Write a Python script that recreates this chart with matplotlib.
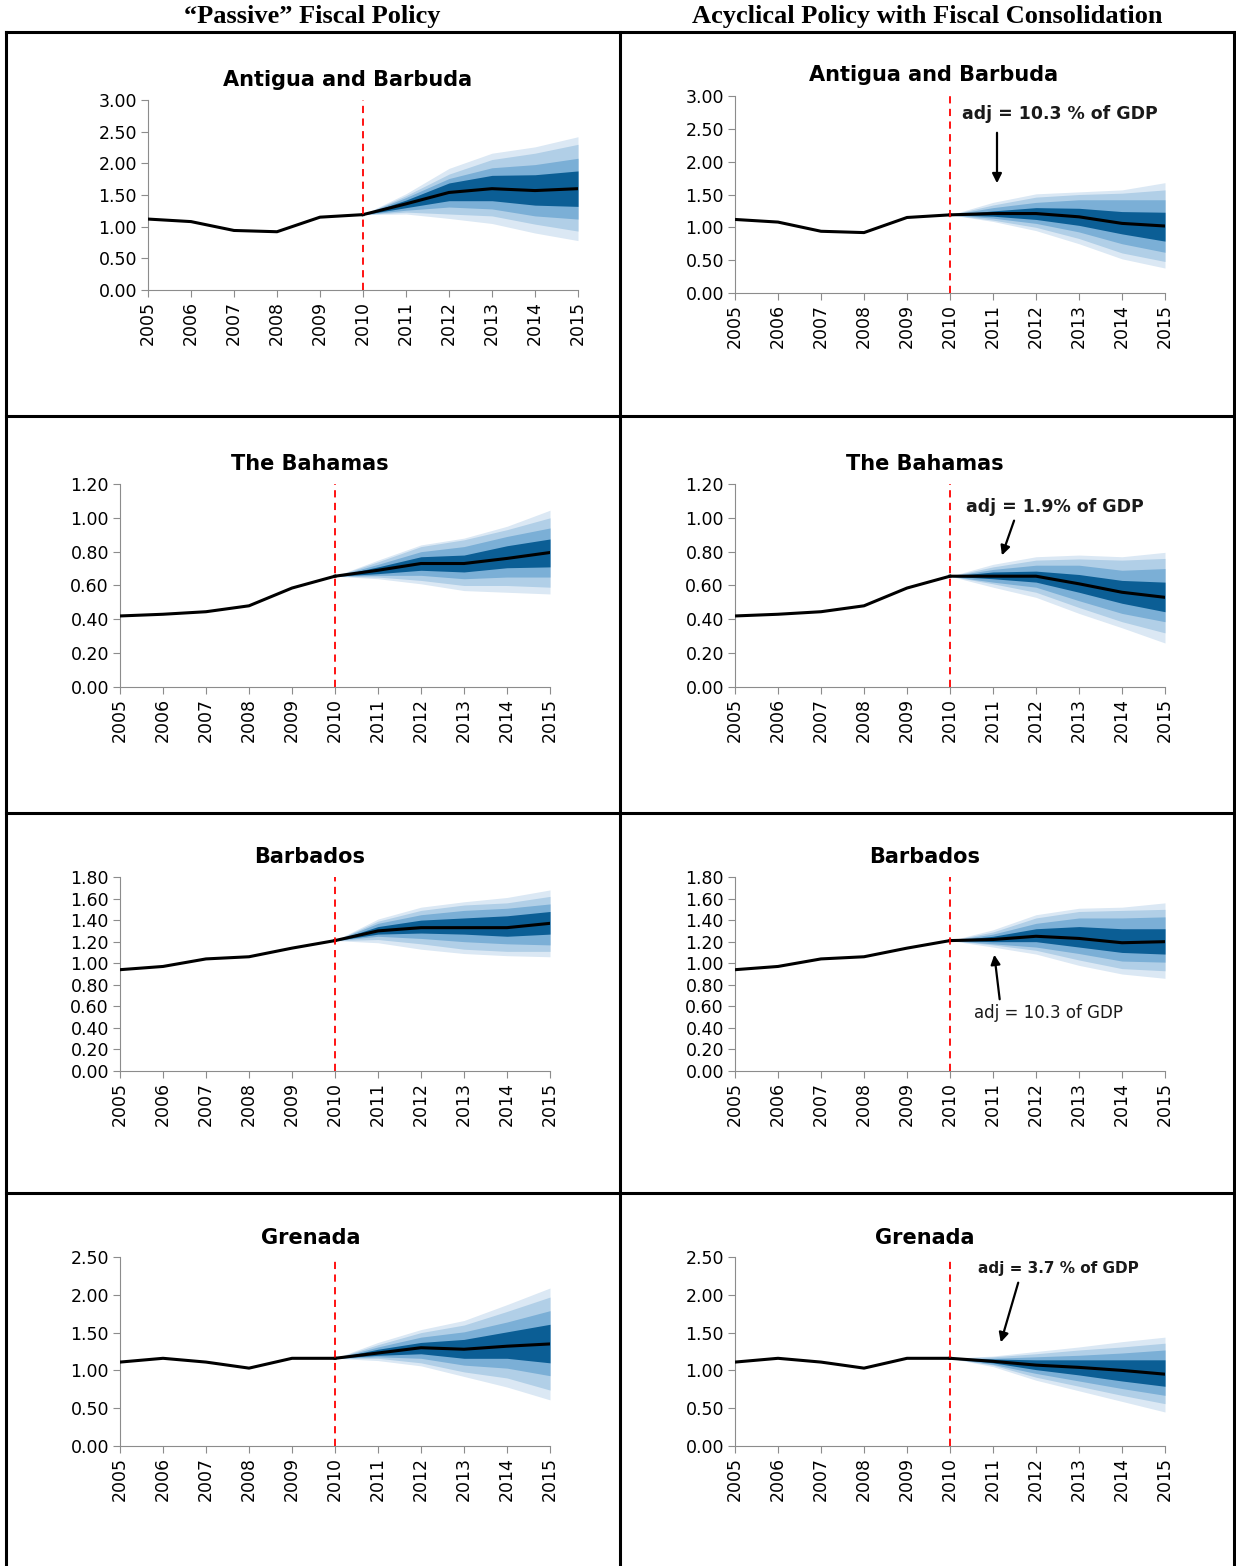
import matplotlib
matplotlib.use("Agg")
import matplotlib.pyplot as plt
from matplotlib.lines import Line2D

W, H = 1236, 1566

# years
hist_years = [2005, 2006, 2007, 2008, 2009, 2010]
fan_years = [2010, 2011, 2012, 2013, 2014, 2015]

# historical debt ratios
antigua_hist = [1.12, 1.08, 0.94, 0.92, 1.15, 1.19]
bahamas_hist = [0.42, 0.43, 0.445, 0.48, 0.585, 0.655]
barbados_hist = [0.94, 0.97, 1.04, 1.06, 1.14, 1.21]
grenada_hist = [1.11, 1.16, 1.11, 1.03, 1.16, 1.16]

# projections: median, upper bounds (inner -> outer), lower bounds (inner -> outer)
antigua_p_med = [1.19, 1.36, 1.54, 1.60, 1.57, 1.60]
antigua_p_hi = [[1.19, 1.42, 1.69, 1.81, 1.82, 1.88],
                [1.19, 1.46, 1.76, 1.93, 1.98, 2.08],
                [1.19, 1.49, 1.83, 2.06, 2.16, 2.30],
                [1.19, 1.52, 1.92, 2.16, 2.26, 2.42]]
antigua_p_lo = [[1.19, 1.30, 1.41, 1.41, 1.34, 1.32],
                [1.19, 1.26, 1.31, 1.28, 1.17, 1.12],
                [1.19, 1.23, 1.20, 1.17, 1.04, 0.93],
                [1.19, 1.20, 1.13, 1.05, 0.90, 0.78]]

antigua_c_med = [1.19, 1.21, 1.21, 1.16, 1.06, 1.02]
antigua_c_hi = [[1.19, 1.25, 1.30, 1.29, 1.24, 1.23],
                [1.19, 1.30, 1.38, 1.42, 1.42, 1.42],
                [1.19, 1.34, 1.46, 1.50, 1.52, 1.57],
                [1.19, 1.38, 1.51, 1.54, 1.57, 1.68]]
antigua_c_lo = [[1.19, 1.17, 1.12, 1.03, 0.90, 0.79],
                [1.19, 1.14, 1.06, 0.93, 0.75, 0.62],
                [1.19, 1.11, 1.00, 0.83, 0.61, 0.48],
                [1.19, 1.09, 0.95, 0.75, 0.52, 0.38]]

bahamas_p_med = [0.655, 0.69, 0.73, 0.73, 0.76, 0.795]
bahamas_p_hi = [[0.655, 0.71, 0.77, 0.78, 0.835, 0.875],
                [0.655, 0.725, 0.80, 0.83, 0.89, 0.94],
                [0.655, 0.74, 0.83, 0.87, 0.93, 1.00],
                [0.655, 0.75, 0.84, 0.88, 0.95, 1.045]]
bahamas_p_lo = [[0.655, 0.67, 0.69, 0.68, 0.705, 0.71],
                [0.655, 0.66, 0.66, 0.64, 0.65, 0.65],
                [0.655, 0.65, 0.63, 0.60, 0.60, 0.59],
                [0.655, 0.64, 0.61, 0.57, 0.56, 0.55]]

bahamas_c_med = [0.655, 0.655, 0.655, 0.61, 0.56, 0.53]
bahamas_c_hi = [[0.655, 0.68, 0.685, 0.665, 0.63, 0.62],
                [0.655, 0.695, 0.72, 0.72, 0.69, 0.70],
                [0.655, 0.71, 0.75, 0.757, 0.75, 0.76],
                [0.655, 0.725, 0.77, 0.78, 0.77, 0.796]]
bahamas_c_lo = [[0.655, 0.64, 0.62, 0.56, 0.495, 0.445],
                [0.655, 0.62, 0.59, 0.51, 0.435, 0.386],
                [0.655, 0.61, 0.56, 0.47, 0.386, 0.32],
                [0.655, 0.59, 0.53, 0.435, 0.35, 0.26]]

barbados_p_med = [1.21, 1.30, 1.33, 1.33, 1.33, 1.37]
barbados_p_hi = [[1.21, 1.34, 1.40, 1.42, 1.44, 1.48],
                 [1.21, 1.37, 1.45, 1.49, 1.51, 1.55],
                 [1.21, 1.39, 1.49, 1.54, 1.56, 1.62],
                 [1.21, 1.41, 1.52, 1.57, 1.61, 1.68]]
barbados_p_lo = [[1.21, 1.27, 1.28, 1.27, 1.25, 1.27],
                 [1.21, 1.25, 1.23, 1.20, 1.18, 1.17],
                 [1.21, 1.22, 1.18, 1.13, 1.11, 1.11],
                 [1.21, 1.19, 1.13, 1.09, 1.07, 1.06]]

barbados_c_med = [1.21, 1.22, 1.25, 1.23, 1.19, 1.20]
barbados_c_hi = [[1.21, 1.25, 1.32, 1.34, 1.32, 1.32],
                 [1.21, 1.27, 1.37, 1.42, 1.42, 1.43],
                 [1.21, 1.29, 1.42, 1.48, 1.49, 1.50],
                 [1.21, 1.31, 1.45, 1.51, 1.52, 1.56]]
barbados_c_lo = [[1.21, 1.20, 1.20, 1.15, 1.10, 1.085],
                 [1.21, 1.18, 1.15, 1.09, 1.02, 1.01],
                 [1.21, 1.17, 1.12, 1.03, 0.95, 0.93],
                 [1.21, 1.15, 1.085, 0.98, 0.90, 0.86]]

grenada_p_med = [1.16, 1.23, 1.30, 1.28, 1.32, 1.35]
grenada_p_hi = [[1.16, 1.28, 1.37, 1.41, 1.51, 1.61],
                [1.16, 1.31, 1.44, 1.51, 1.64, 1.79],
                [1.16, 1.34, 1.50, 1.60, 1.78, 1.97],
                [1.16, 1.37, 1.54, 1.66, 1.87, 2.09]]
grenada_p_lo = [[1.16, 1.20, 1.22, 1.16, 1.16, 1.10],
                [1.16, 1.18, 1.16, 1.07, 1.03, 0.93],
                [1.16, 1.16, 1.10, 0.98, 0.90, 0.74],
                [1.16, 1.13, 1.06, 0.92, 0.78, 0.61]]

grenada_c_med = [1.16, 1.12, 1.07, 1.04, 1.00, 0.95]
grenada_c_hi = [[1.16, 1.15, 1.14, 1.14, 1.14, 1.14],
                [1.16, 1.16, 1.18, 1.20, 1.23, 1.27],
                [1.16, 1.18, 1.22, 1.27, 1.31, 1.36],
                [1.16, 1.19, 1.25, 1.31, 1.38, 1.44]]
grenada_c_lo = [[1.16, 1.10, 1.01, 0.94, 0.86, 0.79],
                [1.16, 1.08, 0.96, 0.86, 0.76, 0.67],
                [1.16, 1.07, 0.91, 0.79, 0.67, 0.56],
                [1.16, 1.05, 0.87, 0.73, 0.59, 0.45]]

fan_colors = ['#0b5e95', '#7bafd6', '#b1cfe7', '#dbe8f4']  # inner -> outer


def px_rect(x0, y0, x1, y1):
    return [x0 / W, 1 - y1 / H, (x1 - x0) / W, (y1 - y0) / H]


def fan_panel(rect, title, title_xy, hist, med, hi, lo, ymax, ystep):
    ax = fig.add_axes(px_rect(*rect))
    for k in range(3, -1, -1):
        ax.fill_between(fan_years, lo[k], hi[k], color=fan_colors[k], lw=0, zorder=1)
    ax.plot(hist_years, hist, color='black', lw=2.2, zorder=3)
    ax.plot(fan_years, med, color='black', lw=2.2, zorder=3)
    ax.axvline(2010, color='red', lw=1.3, ls=(0, (4, 3)), zorder=4)
    ax.set_xlim(2005, 2015)
    ax.set_ylim(0, ymax)
    n = int(round(ymax / ystep))
    ax.set_yticks([i * ystep for i in range(n + 1)])
    ax.set_xticks(list(range(2005, 2016)))
    ax.yaxis.set_major_formatter(matplotlib.ticker.FormatStrFormatter('%.2f'))
    ax.tick_params(axis='x', rotation=90)
    ax.tick_params(direction='out', length=5, color='#8c8c8c', labelsize=12.5, pad=3)
    for s in ['top', 'right']:
        ax.spines[s].set_visible(False)
    for s in ['left', 'bottom']:
        ax.spines[s].set_color('#8c8c8c')
    fig.text(title_xy[0] / W, 1 - title_xy[1] / H, title, ha='center', va='center',
             fontsize=15, fontweight='bold')
    return ax


def px_data(ax, x, y):
    # convert a pixel position into the data space of an axes
    disp = (x, H - y)
    return ax.transData.inverted().transform(disp)


fig = plt.figure(figsize=(W / 100, H / 100), dpi=100)
fig.patch.set_facecolor('white')

# table frame
frame_kw = dict(color='black', lw=2.2, transform=fig.transFigure)
for (x0, y0, x1, y1) in [(6, 32, 1234, 32), (6, 32, 6, H), (1234, 32, 1234, H), (620, 32, 620, H),
                         (6, 416, 1234, 416), (6, 813, 1234, 813), (6, 1193, 1234, 1193)]:
    fig.add_artist(Line2D([x0 / W, x1 / W], [1 - y0 / H, 1 - y1 / H], **frame_kw))

fig.text(312 / W, 1 - 16 / H, '\u201cPassive\u201d Fiscal Policy', ha='center', va='center',
         fontsize=19, fontweight='bold', family='Liberation Serif')
fig.text(927 / W, 1 - 16 / H, 'Acyclical Policy with Fiscal Consolidation', ha='center', va='center',
         fontsize=19, fontweight='bold', family='Liberation Serif')

a1 = fan_panel((148, 100, 578, 290), 'Antigua and Barbuda', (348, 80),
               antigua_hist, antigua_p_med, antigua_p_hi, antigua_p_lo, 3.0, 0.5)
a2 = fan_panel((735, 96, 1165, 293), 'Antigua and Barbuda', (934, 75),
               antigua_hist, antigua_c_med, antigua_c_hi, antigua_c_lo, 3.0, 0.5)
a3 = fan_panel((120, 484, 550, 687), 'The Bahamas', (310, 464),
               bahamas_hist, bahamas_p_med, bahamas_p_hi, bahamas_p_lo, 1.2, 0.2)
a4 = fan_panel((735, 484, 1165, 687), 'The Bahamas', (925, 464),
               bahamas_hist, bahamas_c_med, bahamas_c_hi, bahamas_c_lo, 1.2, 0.2)
a5 = fan_panel((120, 877, 550, 1071), 'Barbados', (310, 857),
               barbados_hist, barbados_p_med, barbados_p_hi, barbados_p_lo, 1.8, 0.2)
a6 = fan_panel((735, 877, 1165, 1071), 'Barbados', (925, 857),
               barbados_hist, barbados_c_med, barbados_c_hi, barbados_c_lo, 1.8, 0.2)
a7 = fan_panel((120, 1257, 550, 1446), 'Grenada', (311, 1238),
               grenada_hist, grenada_p_med, grenada_p_hi, grenada_p_lo, 2.5, 0.5)
a8 = fan_panel((735, 1257, 1165, 1446), 'Grenada', (925, 1238),
               grenada_hist, grenada_c_med, grenada_c_hi, grenada_c_lo, 2.5, 0.5)

# adjustment notes with arrows (text centre, arrow tail, arrow head in pixels)
notes = [
    (a2, 'adj = 10.3 % of GDP', 'bold', 12.5, (1060, 114), (997, 130), (997, 186)),
    (a4, 'adj = 1.9% of GDP', 'bold', 12.5, (1055, 507), (1015, 518), (1001, 558)),
    (a6, 'adj = 10.3 of GDP', 'normal', 12, (1048, 1013), (1000, 1002), (994, 952)),
    (a8, 'adj = 3.7 % of GDP', 'bold', 11, (1058, 1268), (1019, 1280), (1000, 1345)),
]
for ax, txt, wt, fs, tpos, tail, head in notes:
    tx, ty = px_data(ax, *tpos)
    ax.text(tx, ty, txt, ha='center', va='center', fontsize=fs, fontweight=wt,
            color='#1a1a1a', clip_on=False, zorder=6)
    hx, hy = px_data(ax, *head)
    sx, sy = px_data(ax, *tail)
    ax.annotate('', xy=(hx, hy), xytext=(sx, sy),
                arrowprops=dict(arrowstyle='-|>', color='black', lw=1.6, mutation_scale=14),
                annotation_clip=False, zorder=6)

fig.savefig('out.png', dpi=100, facecolor='white')
